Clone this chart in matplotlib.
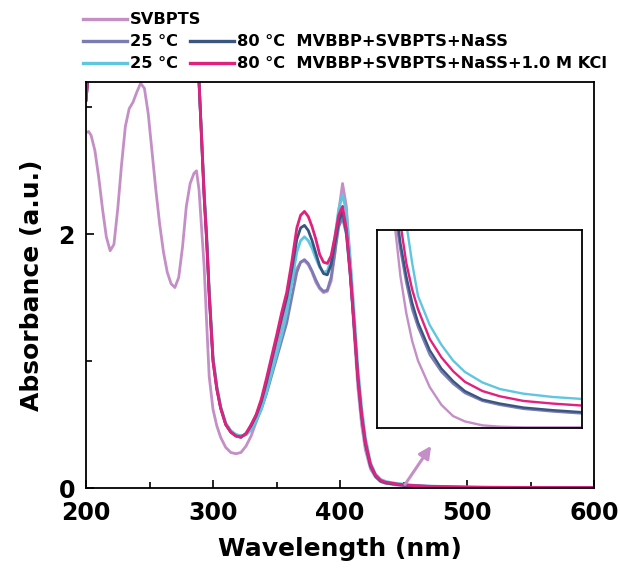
import matplotlib
matplotlib.use("Agg")
import matplotlib.pyplot as plt
from matplotlib.lines import Line2D
from matplotlib.ticker import MultipleLocator

# ---------------- data ----------------
wl_sv = [200, 202, 204, 207, 210, 213, 216, 219, 222, 225,
         228, 231, 234, 237, 240, 243, 246, 249, 252, 255,
         258, 261, 264, 267, 270, 273, 276, 279, 282, 285,
         287, 289, 291, 293, 295, 297,
         300, 303, 306, 310, 314, 318, 322, 326,
         330, 334, 338, 342, 346, 350, 354, 358, 362, 366,
         369, 372, 375, 378, 381, 384, 387, 390, 393, 396,
         399, 402, 405, 408, 411, 414, 417, 420, 424, 428,
         432, 436, 440, 445, 450, 455, 460, 470, 480, 490,
         500, 515, 530, 550, 575, 600]
abs_sv = [2.80, 2.81, 2.78, 2.66, 2.45, 2.20, 1.98, 1.87, 1.92, 2.20,
          2.55, 2.85, 2.99, 3.04, 3.12, 3.19, 3.15, 2.95, 2.65, 2.35,
          2.08, 1.86, 1.70, 1.61, 1.58, 1.66, 1.90, 2.22, 2.40, 2.48,
          2.50, 2.35, 2.05, 1.75, 1.30, 0.88,
          0.62, 0.49, 0.40, 0.32, 0.28, 0.27, 0.28, 0.33,
          0.41, 0.52, 0.64, 0.80, 0.97, 1.12, 1.28, 1.45, 1.62, 1.73,
          1.78, 1.79, 1.76, 1.70, 1.62, 1.57, 1.54, 1.55, 1.63, 1.85,
          2.18, 2.40, 2.22, 1.75, 1.25, 0.80, 0.50, 0.30, 0.15, 0.085,
          0.050, 0.037, 0.031, 0.023, 0.0174, 0.0132, 0.0102, 0.0062, 0.0035, 0.0018,
          0.0010, 0.0004, 0.0002, 0.0001, 0.0001, 0.0001]

wl_mix = [200, 202, 204, 285, 287, 289, 291, 293, 295, 297,
          300, 303, 306, 310, 314, 318, 322, 326,
          330, 334, 338, 342, 346, 350, 354, 358, 362, 366,
          369, 372, 375, 378, 381, 384, 387, 390, 393, 396,
          399, 402, 405, 408, 411, 414, 417, 420, 424, 428,
          432, 436, 440, 445, 450, 455, 460, 470, 480, 490,
          500, 515, 530, 550, 575, 600]

abs_nass_25 = [3.05, 3.30, 3.60, 3.60, 3.50, 3.20, 2.78, 2.34, 1.99, 1.56,
               1.03, 0.80, 0.64, 0.51, 0.45, 0.42, 0.41, 0.42,
               0.46, 0.53, 0.62, 0.74, 0.88, 1.02, 1.16, 1.30, 1.50, 1.70,
               1.78, 1.80, 1.77, 1.71, 1.64, 1.58, 1.55, 1.56, 1.66, 1.86,
               2.06, 2.13, 2.00, 1.68, 1.28, 0.87, 0.56, 0.34, 0.17, 0.090,
               0.052, 0.039, 0.033, 0.027, 0.022, 0.018, 0.0153, 0.0111, 0.0085, 0.0067,
               0.0053, 0.0041, 0.0035, 0.0029, 0.0025, 0.0022]

abs_kcl_25 = [3.05, 3.30, 3.60, 3.60, 3.50, 3.20, 2.78, 2.34, 1.99, 1.56,
              1.03, 0.80, 0.64, 0.51, 0.45, 0.42, 0.41, 0.42,
              0.46, 0.53, 0.62, 0.75, 0.90, 1.05, 1.20, 1.38, 1.62, 1.86,
              1.95, 1.98, 1.95, 1.89, 1.81, 1.74, 1.70, 1.71, 1.80, 1.98,
              2.20, 2.31, 2.18, 1.82, 1.40, 0.96, 0.64, 0.40, 0.20, 0.110,
              0.068, 0.052, 0.043, 0.036, 0.031, 0.025, 0.020, 0.0156, 0.0126, 0.0102,
              0.0085, 0.0069, 0.0059, 0.0052, 0.0047, 0.0044]

abs_nass_80 = [3.05, 3.30, 3.60, 3.60, 3.50, 3.20, 2.75, 2.30, 1.95, 1.52,
               1.00, 0.78, 0.63, 0.50, 0.44, 0.41, 0.40, 0.43,
               0.49, 0.57, 0.68, 0.83, 1.00, 1.17, 1.34, 1.50, 1.72, 1.96,
               2.05, 2.07, 2.03, 1.95, 1.85, 1.75, 1.69, 1.68, 1.76, 1.93,
               2.10, 2.18, 2.02, 1.70, 1.30, 0.88, 0.57, 0.35, 0.175, 0.095,
               0.055, 0.041, 0.035, 0.028, 0.023, 0.019, 0.016, 0.0118, 0.0090, 0.0071,
               0.0056, 0.0043, 0.0037, 0.0031, 0.0027, 0.0024]

abs_kcl_80 = [3.05, 3.30, 3.60, 3.60, 3.50, 3.20, 2.75, 2.30, 1.95, 1.52,
              1.00, 0.78, 0.63, 0.50, 0.44, 0.41, 0.40, 0.43,
              0.50, 0.58, 0.70, 0.86, 1.03, 1.20, 1.38, 1.54, 1.78, 2.05,
              2.15, 2.18, 2.14, 2.06, 1.96, 1.84, 1.78, 1.77, 1.83, 1.98,
              2.15, 2.22, 2.04, 1.70, 1.30, 0.88, 0.58, 0.36, 0.185, 0.100,
              0.060, 0.045, 0.040, 0.031, 0.025, 0.021, 0.018, 0.0135, 0.0107, 0.0086,
              0.0070, 0.0056, 0.0048, 0.0041, 0.0037, 0.0034]

x_ticks = [200, 300, 400, 500, 600]
y_ticks = [0, 2]

c_sv = "#c48ec6"
c_nass25 = "#7b7cb3"
c_nass80 = "#3a5680"
c_kcl25 = "#5fc6e0"
c_kcl80 = "#e2207e"

series = [
    (wl_sv, abs_sv, c_sv),
    (wl_mix, abs_nass_25, c_nass25),
    (wl_mix, abs_kcl_25, c_kcl25),
    (wl_mix, abs_nass_80, c_nass80),
    (wl_mix, abs_kcl_80, c_kcl80),
]

plt.rcParams['font.family'] = ['DejaVu Sans']
plt.rcParams['font.weight'] = 'bold'

fig = plt.figure(figsize=(6.2, 5.7), dpi=100)
ax = fig.add_axes([86/620, 1-488/570, 508/620, 406/570])

for x, y, c in series:
    ax.plot(x, y, color=c, lw=2.0, solid_capstyle='round')

ax.set_xlim(200, 600)
ax.set_ylim(0, 3.2)
ax.set_xticks(x_ticks)
ax.set_yticks(y_ticks)
ax.xaxis.set_minor_locator(MultipleLocator(50))
ax.yaxis.set_minor_locator(MultipleLocator(1))
ax.tick_params(which='both', direction='in', top=False, right=False,
               width=1.2, labelsize=17, colors='black')
ax.tick_params(which='major', length=6)
ax.tick_params(axis='x', which='major', pad=9)
ax.tick_params(axis='y', which='major', pad=8)
ax.tick_params(which='minor', length=4)
for lab in ax.get_xticklabels() + ax.get_yticklabels():
    lab.set_fontweight('bold')
for s in ax.spines.values():
    s.set_linewidth(1.3)

ax.set_xlabel("Wavelength (nm)", fontsize=18, fontweight='bold')
ax.set_ylabel("Absorbance (a.u.)", fontsize=18, fontweight='bold')
ax.xaxis.set_label_coords(0.5, -0.12)
ax.yaxis.set_label_coords(-0.083, 0.5)

# arrow pointing to the inset
ax.annotate("", xy=(473, 0.35), xytext=(450, 0.01),
            arrowprops=dict(arrowstyle='-|>', color=c_sv, lw=2.2,
                            mutation_scale=18))

# inset
axin = fig.add_axes([377/620, 1-428/570, 205/620, 198/570])
for x, y, c in series:
    axin.plot(x, y, color=c, lw=1.7)
axin.set_xlim(425, 600)
axin.set_ylim(0, 0.03)
axin.set_xticks([])
axin.set_yticks([])
for s in axin.spines.values():
    s.set_linewidth(1.3)

# legend (drawn manually)
def leg_entry(x0, y, color, text):
    fig.add_artist(Line2D([x0/620, (x0+44)/620], [1-y/570, 1-y/570],
                          transform=fig.transFigure, color=color, lw=2.4))
    fig.text((x0+47)/620, 1-y/570, text, fontsize=11.7, fontweight='bold',
             va='center', ha='left')

leg_entry(83, 19, c_sv, "SVBPTS")
leg_entry(83, 41, c_nass25, "25 °C")
leg_entry(190, 41, c_nass80, "80 °C  MVBBP+SVBPTS+NaSS")
leg_entry(83, 63, c_kcl25, "25 °C")
leg_entry(190, 63, c_kcl80, "80 °C  MVBBP+SVBPTS+NaSS+1.0 M KCl")

fig.savefig("out.png", dpi=100)
